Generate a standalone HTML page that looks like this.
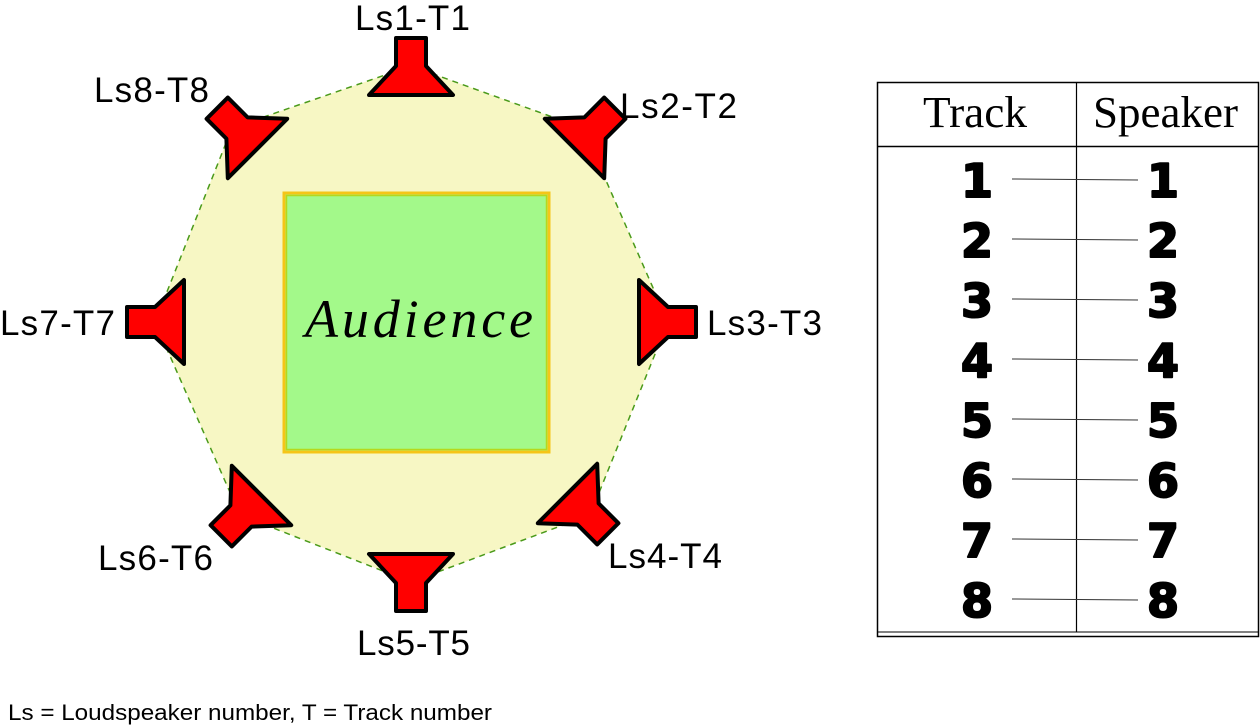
<!DOCTYPE html>
<html><head><meta charset="utf-8"><style>
html,body{margin:0;padding:0;background:#fff;}
svg{display:block}
</style></head><body>
<svg width="1260" height="726" viewBox="0 0 1260 726" xmlns="http://www.w3.org/2000/svg">
<defs>
<path id="spk" d="M-15,-28 H15 V0 L42,29 H-42 L-15,0 Z" fill="#ff0000" stroke="#000" stroke-width="4" stroke-linejoin="round"/>
</defs>
<polygon points="411,66 583,128 668,322 590,515 411,582 240,515 155,322 232,128" fill="#f7f7c4" stroke="#4a9a1a" stroke-width="1.5" stroke-dasharray="6,5"/>
<rect x="284" y="193" width="265" height="259" fill="#a3f98a" stroke="#f5c518" stroke-width="3"/>
<rect x="286.5" y="195.5" width="260" height="254" fill="none" stroke="#b5d81c" stroke-width="1.5"/>
<text x="305" y="337" font-family="Liberation Serif, serif" font-style="italic" font-size="54" textLength="228" lengthAdjust="spacing">Audience</text>
<use href="#spk" transform="translate(411,66)"/>
<use href="#spk" transform="translate(595,128) rotate(45)"/>
<use href="#spk" transform="translate(668,322) rotate(90)"/>
<use href="#spk" transform="translate(588,514) rotate(135)"/>
<use href="#spk" transform="translate(411,583) rotate(180)"/>
<use href="#spk" transform="translate(241,516) rotate(225)"/>
<use href="#spk" transform="translate(155,322) rotate(270)"/>
<use href="#spk" transform="translate(237,128) rotate(315)"/>
<g font-family="Liberation Sans, sans-serif" font-size="35" fill="#000" lengthAdjust="spacingAndGlyphs">
<text x="355" y="30" textLength="115">Ls1-T1</text>
<text x="620" y="118" textLength="117">Ls2-T2</text>
<text x="707" y="335" textLength="115">Ls3-T3</text>
<text x="608" y="568" textLength="114">Ls4-T4</text>
<text x="357" y="655" textLength="113">Ls5-T5</text>
<text x="98" y="570" textLength="115">Ls6-T6</text>
<text x="0" y="335" textLength="115">Ls7-T7</text>
<text x="94" y="102" textLength="115">Ls8-T8</text>
</g>
<text x="8" y="720" font-family="Liberation Sans, sans-serif" font-size="22" textLength="484" lengthAdjust="spacingAndGlyphs">Ls = Loudspeaker number, T = Track number</text>
<g stroke="#000" fill="none">
<rect x="877.5" y="82.5" width="381" height="554" stroke-width="1.5"/>
<line x1="877" y1="632" x2="1259" y2="632" stroke-width="1"/>
<line x1="877" y1="146.5" x2="1259" y2="146.5" stroke-width="1.5"/>
<line x1="1076.5" y1="82" x2="1076.5" y2="632" stroke-width="1.2"/>
</g>
<g font-family="Liberation Serif, serif" font-size="44">
<text x="923" y="127" textLength="104" lengthAdjust="spacingAndGlyphs">Track</text>
<text x="1093" y="127" textLength="145" lengthAdjust="spacingAndGlyphs">Speaker</text>
</g>
<g font-family="DejaVu Sans, sans-serif" font-weight="bold" font-size="46" text-anchor="middle" stroke="#000" stroke-width="2" stroke-linejoin="round">
<text x="977" y="197">1</text><text x="1163" y="197">1</text>
<text x="977" y="257">2</text><text x="1163" y="257">2</text>
<text x="977" y="317">3</text><text x="1163" y="317">3</text>
<text x="977" y="377">4</text><text x="1163" y="377">4</text>
<text x="977" y="437">5</text><text x="1163" y="437">5</text>
<text x="977" y="497">6</text><text x="1163" y="497">6</text>
<text x="977" y="557">7</text><text x="1163" y="557">7</text>
<text x="977" y="617">8</text><text x="1163" y="617">8</text>
</g>
<g stroke="#333" stroke-width="1">
<line x1="1012" y1="179" x2="1138" y2="180"/>
<line x1="1012" y1="239" x2="1138" y2="240"/>
<line x1="1012" y1="299" x2="1138" y2="300"/>
<line x1="1012" y1="359" x2="1138" y2="360"/>
<line x1="1012" y1="419" x2="1138" y2="420"/>
<line x1="1012" y1="479" x2="1138" y2="480"/>
<line x1="1012" y1="539" x2="1138" y2="540"/>
<line x1="1012" y1="599" x2="1138" y2="600"/>
</g>
</svg>
</body></html>
